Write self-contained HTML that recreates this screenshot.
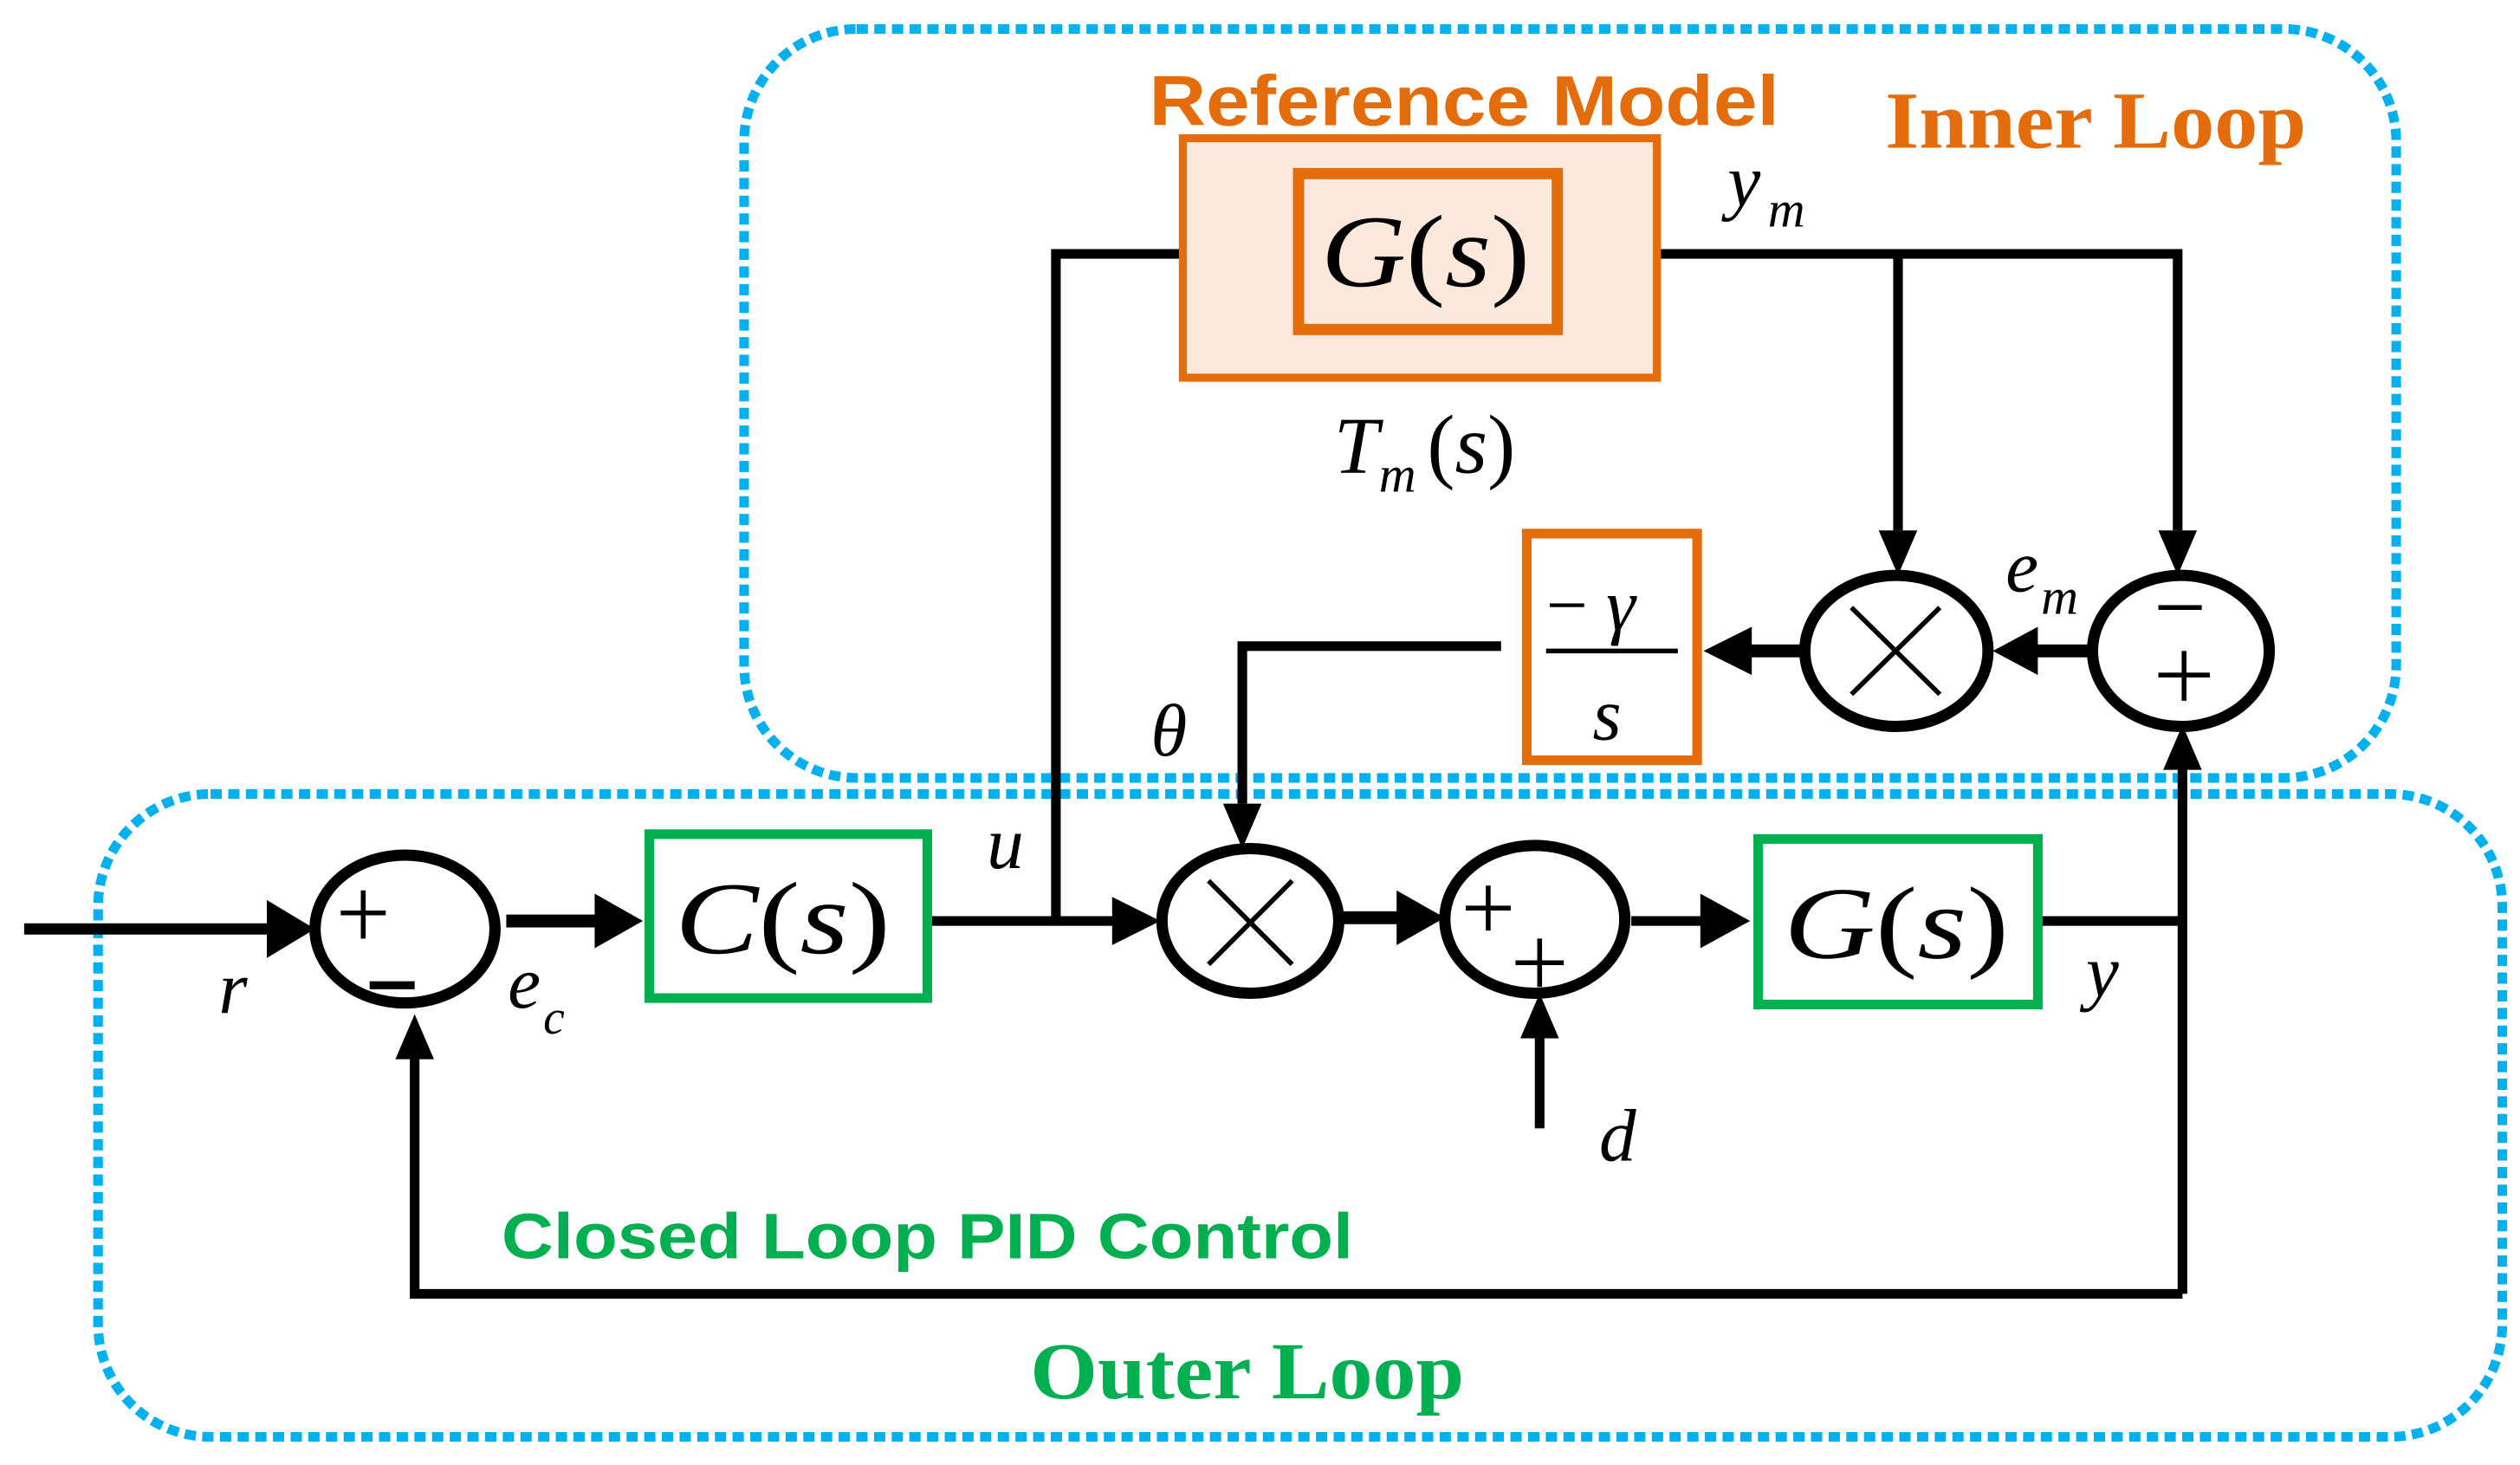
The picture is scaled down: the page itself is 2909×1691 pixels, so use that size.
<!DOCTYPE html>
<html><head><meta charset="utf-8"><style>html,body{margin:0;padding:0;background:#fff}svg{display:block}</style></head>
<body>
<svg width="2909" height="1691" viewBox="0 0 1568 911.5" xmlns="http://www.w3.org/2000/svg">
<g fill="none" stroke="#00b0f0" stroke-width="6" stroke-dasharray="7 4">
<rect x="463" y="18" width="1028" height="466" rx="70"/>
<rect x="61" y="494" width="1496" height="400" rx="70"/>
</g>
<g fill="none" stroke="#000" stroke-width="6">
<polyline points="736,158 657,158 657,575"/>
<polyline points="1031,158 1355,158 1355,330"/>
<line x1="1181" y1="158" x2="1181" y2="330"/>
<line x1="1300" y1="405" x2="1262" y2="405" stroke-width="8"/>
<line x1="1120" y1="405" x2="1085" y2="405" stroke-width="8"/>
<polyline points="934,402 773,402 773,500"/>
<line x1="15" y1="578" x2="170" y2="578" stroke-width="7"/>
<line x1="315" y1="573" x2="372" y2="573" stroke-width="8"/>
<line x1="580" y1="573" x2="695" y2="573"/>
<line x1="836" y1="571" x2="872" y2="571" stroke-width="8"/>
<line x1="1015" y1="573" x2="1062" y2="573"/>
<line x1="958" y1="702" x2="958" y2="645"/>
<polyline points="1270,573 1358,573"/>
<polyline points="1358,805 1358,478"/>
<polyline points="1358,805 258,805 258,658"/>
</g>
<g fill="#000">
<polygon points="1169,330 1193,330 1181,358"/>
<polygon points="1343,330 1367,330 1355,358"/>
<polygon points="761,500 785,500 773,528"/>
<polygon points="1268,390 1268,420 1240,405"/>
<polygon points="1090,390 1090,420 1060,405"/>
<polygon points="166,560 166,596 196,578"/>
<polygon points="370,556 370,590 400,573"/>
<polygon points="692,558 692,588 722,573"/>
<polygon points="869,554 869,588 899,571"/>
<polygon points="1058,556 1058,590 1089,573"/>
<polygon points="946,646 970,646 958,618"/>
<polygon points="1346,479 1370,479 1358,451"/>
<polygon points="246,659 270,659 258,631"/>
</g>
<g fill="#fff" stroke="#000" stroke-width="7">
<ellipse cx="1180" cy="405" rx="57" ry="47"/>
<ellipse cx="1357" cy="405" rx="55" ry="47"/>
<ellipse cx="778" cy="573" rx="55" ry="45"/>
<ellipse cx="955" cy="572" rx="56" ry="46"/>
<ellipse cx="252" cy="578" rx="56" ry="46"/>
</g>
<g stroke="#000" stroke-width="3">
<line x1="1152" y1="378" x2="1207" y2="432"/><line x1="1207" y1="378" x2="1152" y2="432"/>
<line x1="752" y1="548" x2="804" y2="600"/><line x1="804" y1="548" x2="752" y2="600"/>
<line x1="1343" y1="378" x2="1370" y2="378"/>
<line x1="1343" y1="420" x2="1375" y2="420"/><line x1="1359" y1="405" x2="1359" y2="436"/>
<line x1="912" y1="565" x2="940" y2="565"/><line x1="926" y1="551" x2="926" y2="579"/>
<line x1="943" y1="599" x2="973" y2="599"/><line x1="958" y1="584" x2="958" y2="614"/>
<line x1="212" y1="568" x2="240" y2="568"/><line x1="226" y1="554" x2="226" y2="584"/>
<line x1="230" y1="613" x2="258" y2="613" stroke-width="5"/>
</g>
<rect x="736" y="86" width="295" height="149" fill="#fce9db" stroke="#e46c0a" stroke-width="5"/>
<rect x="808" y="108" width="161" height="97" fill="none" stroke="#e46c0a" stroke-width="7"/>
<rect x="950" y="332" width="106" height="141" fill="#fff" stroke="#e46c0a" stroke-width="6"/>
<line x1="962" y1="405" x2="1044" y2="405" stroke="#000" stroke-width="3"/>
<rect x="404" y="519" width="173" height="102" fill="#fff" stroke="#00b050" stroke-width="6"/>
<rect x="1094" y="522" width="174" height="103" fill="#fff" stroke="#00b050" stroke-width="6"/>
<g font-family="Liberation Serif, serif" font-style="italic" fill="#000">
<text x="822" y="178" font-size="64" font-style="normal" textLength="130" lengthAdjust="spacingAndGlyphs"><tspan font-style="italic">G</tspan>(<tspan font-style="italic">s</tspan>)</text>
<text x="420" y="593" font-size="64" font-style="normal" textLength="134" lengthAdjust="spacingAndGlyphs"><tspan font-style="italic">C</tspan>(<tspan font-style="italic">s</tspan>)</text>
<text x="1110" y="596" font-size="64" font-style="normal" textLength="140" lengthAdjust="spacingAndGlyphs"><tspan font-style="italic">G</tspan>(<tspan font-style="italic">s</tspan>)</text>
<text x="830" y="294" font-size="50">T</text><text x="858" y="306" font-size="32">m</text>
<text x="888" y="294" font-size="52" font-style="normal">(<tspan font-style="italic">s</tspan>)</text>
<text x="1075" y="128" font-size="46">y</text><text x="1100" y="141" font-size="32">m</text>
<text x="1248" y="368" font-size="46">e</text><text x="1270" y="382" font-size="32">m</text>
<text x="962" y="392" font-size="46" font-style="normal">− <tspan font-style="italic">γ</tspan></text>
<text x="991" y="460" font-size="46">s</text>
<text x="716" y="470" font-size="46">θ</text>
<text x="614" y="540" font-size="46">u</text>
<text x="136" y="630" font-size="46">r</text>
<text x="316" y="627" font-size="46">e</text><text x="338" y="643" font-size="30">c</text>
<text x="1298" y="620" font-size="46">y</text>
<text x="995" y="722" font-size="46">d</text>
</g>
<text x="715" y="78" font-family="Liberation Sans, sans-serif" font-weight="bold" font-size="44" fill="#e46c0a" textLength="392" lengthAdjust="spacingAndGlyphs">Reference Model</text>
<text x="1173" y="92" font-family="Liberation Serif, serif" font-weight="bold" font-size="50" fill="#e46c0a" textLength="262" lengthAdjust="spacingAndGlyphs">Inner Loop</text>
<text x="312" y="783" font-family="Liberation Sans, sans-serif" font-weight="bold" font-size="40" fill="#00b050" textLength="530" lengthAdjust="spacingAndGlyphs">Closed Loop PID Control</text>
<text x="641" y="870" font-family="Liberation Serif, serif" font-weight="bold" font-size="50" fill="#00b050" textLength="270" lengthAdjust="spacingAndGlyphs">Outer Loop</text>
</svg>
</body></html>
